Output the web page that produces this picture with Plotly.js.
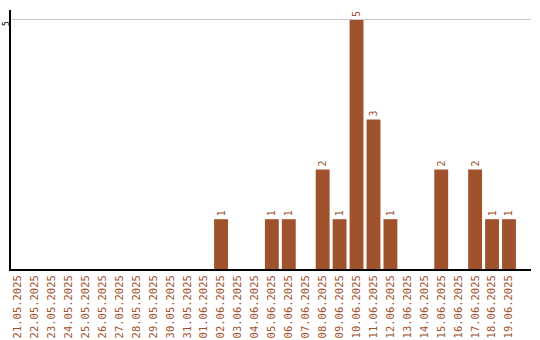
<!DOCTYPE html>
<html>
<head>
<meta charset="utf-8">
<script src="https://cdn.plot.ly/plotly-3.0.1.min.js"></script>
<style>html,body{margin:0;padding:0;background:#fff;}#chart{width:540px;height:340px;}</style>
</head>
<body>
<div id="chart"></div>
<script>
const dates = ["21.05.2025","22.05.2025","23.05.2025","24.05.2025","25.05.2025","26.05.2025","27.05.2025","28.05.2025","29.05.2025","30.05.2025","31.05.2025","01.06.2025","02.06.2025","03.06.2025","04.06.2025","05.06.2025","06.06.2025","07.06.2025","08.06.2025","09.06.2025","10.06.2025","11.06.2025","12.06.2025","13.06.2025","14.06.2025","15.06.2025","16.06.2025","17.06.2025","18.06.2025","19.06.2025"];
const counts = [0,0,0,0,0,0,0,0,0,0,0,0,1,0,0,1,1,0,2,1,5,3,1,0,0,2,0,2,1,1];

const labels = counts.map(v => v > 0 ? String(v) : "");
const fontFam = "DejaVu Sans Mono, monospace";

Plotly.newPlot("chart", [{
  type: "bar",
  x: dates,
  y: counts,
  marker: {color: "#A0522D"},
  text: labels,
  textposition: "outside",
  textangle: -90,
  textfont: {family: fontFam, size: 10, color: "#A0522D"},
  cliponaxis: false,
  hoverinfo: "none"
}], {
  width: 540, height: 340,
  margin: {l: 11, r: 9, t: 10, b: 71},
  paper_bgcolor: "#fff", plot_bgcolor: "#fff",
  bargap: 0.18,
  showlegend: false,
  xaxis: {
    type: "category",
    range: [-0.4, 30.3],
    tickangle: -90,
    tickfont: {family: fontFam, size: 10.5, color: "#A0522D"},
    showline: true, linecolor: "#000", linewidth: 2,
    showgrid: false, ticks: "", zeroline: false
  },
  yaxis: {
    range: [0, 5.2],
    tickvals: [5],
    ticktext: ["5\u00a0\u00a0"],
    tickangle: -90,
    ticklabelstandoff: -3,
    tickfont: {family: fontFam, size: 8, color: "#000"},
    showline: true, linecolor: "#000", linewidth: 2,
    showgrid: true, gridcolor: "#c8c8c8", gridwidth: 1,
    ticks: "", zeroline: false
  }
}, {staticPlot: true});
</script>
</body>
</html>
